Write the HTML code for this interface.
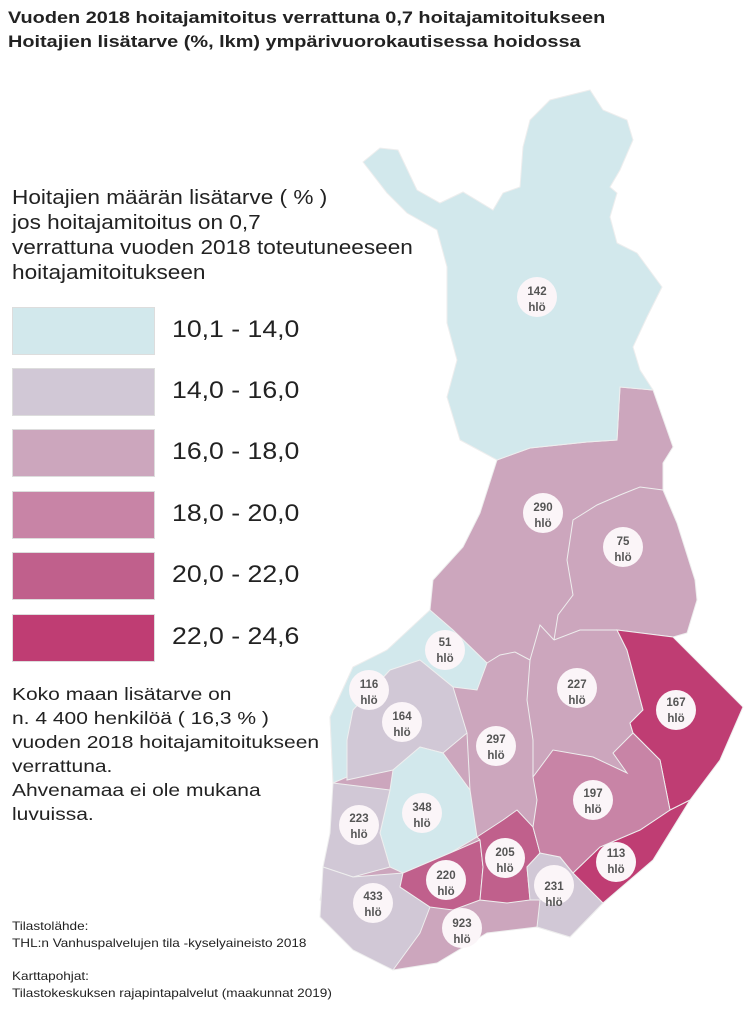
<!DOCTYPE html>
<html><head><meta charset="utf-8"><style>
body{margin:0;background:#fff;font-family:"Liberation Sans",sans-serif;color:#222}
.t{position:absolute;left:8px;font-weight:bold;font-size:17px;line-height:24px;transform:scaleX(1.17);transform-origin:0 0;white-space:nowrap}
.box{position:absolute;left:12px;width:141px;height:46px;border:1px solid #ddd}
.lab{position:absolute;left:172px;font-size:24px;transform:scaleX(1.11);transform-origin:0 0}
</style></head><body>
<div style="position:relative;width:753px;height:1010px;overflow:hidden">
<div class="t" style="top:6px">Vuoden 2018 hoitajamitoitus verrattuna 0,7 hoitajamitoitukseen<br>Hoitajien lisätarve (%, lkm) ympärivuorokautisessa hoidossa</div>
<div style="position:absolute;left:12px;top:186px;font-size:20px;line-height:25px;transform:scaleX(1.13);transform-origin:0 0;white-space:nowrap">Hoitajien määrän lisätarve ( % )<br>jos hoitajamitoitus on 0,7<br>verrattuna vuoden 2018 toteutuneeseen<br>hoitajamitoitukseen</div>
<div class="box" style="top:307px;background:#d2e8ec"></div><div class="lab" style="top:316px">10,1 - 14,0</div>
<div class="box" style="top:368px;background:#d1c8d6"></div><div class="lab" style="top:377px">14,0 - 16,0</div>
<div class="box" style="top:429px;background:#cca6bd"></div><div class="lab" style="top:438px">16,0 - 18,0</div>
<div class="box" style="top:491px;background:#c884a6"></div><div class="lab" style="top:500px">18,0 - 20,0</div>
<div class="box" style="top:552px;background:#c0608c"></div><div class="lab" style="top:561px">20,0 - 22,0</div>
<div class="box" style="top:614px;background:#bf3d73"></div><div class="lab" style="top:623px">22,0 - 24,6</div>
<div style="position:absolute;left:12px;top:682px;font-size:17.5px;line-height:24px;transform:scaleX(1.2);transform-origin:0 0;white-space:nowrap">Koko maan lisätarve on<br>n. 4 400 henkilöä ( 16,3 % )<br>vuoden 2018 hoitajamitoitukseen<br>verrattuna.<br>Ahvenamaa ei ole mukana<br>luvuissa.</div>
<div style="position:absolute;left:12px;top:918px;font-size:12px;line-height:17px;transform:scaleX(1.13);transform-origin:0 0;white-space:nowrap">Tilastolähde:<br>THL:n Vanhuspalvelujen tila -kyselyaineisto 2018</div>
<div style="position:absolute;left:12px;top:968px;font-size:12px;line-height:17px;transform:scaleX(1.13);transform-origin:0 0;white-space:nowrap">Karttapohjat:<br>Tilastokeskuksen rajapintapalvelut (maakunnat 2019)</div>
<svg width="753" height="1010" style="position:absolute;left:0;top:0" stroke="#eee" stroke-width="1">
<polygon fill="#cca6bd" points="497,460 530,448 587,442 617,440 620,387 653,390 673,447 663,463 663,490 677,523 695,580 697,600 687,633 673,637 617,630 627,650 643,710 630,723 633,733 660,760 670,810 690,800 653,860 603,903 570,937 537,927 487,933 437,963 393,970 380,953 363,933 320,900 333,833 333,783 330,717 353,667 390,650 430,610 433,580 463,547 480,513"/>
<polygon fill="#d2e8ec" points="363,162 380,148 398,150 417,190 440,203 463,192 493,210 503,193 520,187 523,147 530,120 550,100 590,90 603,110 627,120 633,140 620,170 610,187 617,193 610,217 617,243 637,253 662,287 647,317 633,347 640,370 653,390 620,387 617,440 587,442 530,448 497,460 460,440 447,397 457,360 447,323 447,267 437,230 407,213 387,193"/>
<polygon fill="#d2e8ec" points="387,650 430,610 453,630 487,663 477,690 453,687 420,660 390,670 353,710 347,777 333,783 330,717 353,667"/>
<polygon fill="#d1c8d6" points="390,670 420,660 453,687 467,733 443,753 420,747 393,770 347,780 347,740 353,710"/>
<polygon fill="#d2e8ec" points="393,770 420,747 443,753 470,790 477,837 450,853 403,873 390,867 380,833 390,790"/>
<polygon fill="#d1c8d6" points="333,783 390,790 380,833 390,867 353,877 323,867 330,833"/>
<polygon fill="#d1c8d6" points="323,867 353,877 403,873 400,887 430,907 420,933 393,970 353,950 320,917"/>
<polygon fill="#c0608c" points="403,873 450,853 480,840 483,867 480,900 453,910 430,907 400,887"/>
<polygon fill="#c0608c" points="477,837 503,820 517,810 533,827 540,853 527,867 530,900 507,903 480,900 483,867 480,840"/>
<polygon fill="#d1c8d6" points="527,867 540,853 560,857 573,873 603,903 570,937 537,927 540,900 530,900"/>
<polygon fill="#bf3d73" points="573,873 600,847 640,830 670,810 690,800 653,860 603,903"/>
<polygon fill="#bf3d73" points="617,630 673,637 743,707 720,760 690,800 670,810 660,760 633,733 630,723 643,710 627,650"/>
<polygon fill="#c884a6" points="533,777 553,750 593,757 627,773 613,753 633,733 660,760 670,810 640,830 600,847 573,873 560,857 540,853 533,827 537,800"/>
<polyline fill="none" points="663,490 640,487 620,495 597,505 573,520 570,540 567,560 573,595 558,615 554,640"/>
<polyline fill="none" points="554,640 580,630 617,630"/>
<polyline fill="none" points="554,640 540,625 530,660 527,700 533,740 533,777"/>
<polyline fill="none" points="487,663 500,655 515,652 530,660"/>
<polyline fill="none" points="467,733 470,790"/>
<g fill="#fbf5f8" stroke="none">
<circle cx="537" cy="297" r="20"/><circle cx="543" cy="513" r="20"/><circle cx="623" cy="547" r="20"/>
<circle cx="445" cy="650" r="20"/><circle cx="369" cy="690" r="20"/><circle cx="402" cy="722" r="20"/>
<circle cx="496" cy="746" r="20"/><circle cx="577" cy="688" r="20"/><circle cx="676" cy="710" r="20"/>
<circle cx="422" cy="813" r="20"/><circle cx="359" cy="825" r="20"/><circle cx="593" cy="800" r="20"/>
<circle cx="505" cy="858" r="20"/><circle cx="616" cy="862" r="20"/><circle cx="446" cy="880" r="20"/>
<circle cx="554" cy="885" r="20"/><circle cx="373" cy="903" r="20"/><circle cx="462" cy="928" r="20"/>
</g>
<g fill="#555" stroke="none" font-family="Liberation Sans,sans-serif" font-weight="bold" font-size="11.5" text-anchor="middle">
<text x="537" y="295">142</text><text x="537" y="311">hlö</text>
<text x="543" y="511">290</text><text x="543" y="527">hlö</text>
<text x="623" y="545">75</text><text x="623" y="561">hlö</text>
<text x="445" y="646">51</text><text x="445" y="662">hlö</text>
<text x="369" y="688">116</text><text x="369" y="704">hlö</text>
<text x="402" y="720">164</text><text x="402" y="736">hlö</text>
<text x="496" y="743">297</text><text x="496" y="759">hlö</text>
<text x="577" y="688">227</text><text x="577" y="704">hlö</text>
<text x="676" y="706">167</text><text x="676" y="722">hlö</text>
<text x="422" y="811">348</text><text x="422" y="827">hlö</text>
<text x="359" y="822">223</text><text x="359" y="838">hlö</text>
<text x="593" y="797">197</text><text x="593" y="813">hlö</text>
<text x="505" y="856">205</text><text x="505" y="872">hlö</text>
<text x="616" y="857">113</text><text x="616" y="873">hlö</text>
<text x="446" y="879">220</text><text x="446" y="895">hlö</text>
<text x="554" y="890">231</text><text x="554" y="906">hlö</text>
<text x="373" y="900">433</text><text x="373" y="916">hlö</text>
<text x="462" y="927">923</text><text x="462" y="943">hlö</text>
</g>
</svg>
</div>
</body></html>
